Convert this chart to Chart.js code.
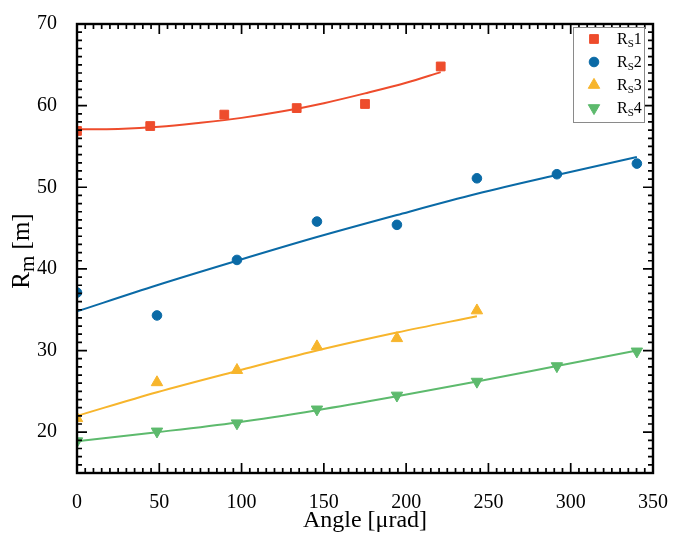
<!DOCTYPE html>
<html>
<head>
<meta charset="utf-8">
<script src="https://cdn.jsdelivr.net/npm/chart.js@4"></script>
<style>
  html, body { margin: 0; padding: 0; background: #fff; }
</style>
</head>
<body>
<canvas id="rm-chart" width="678" height="536"></canvas>
<script>
// measured points, angle in µrad, R_m in m
const angle1 = [0, 44.5, 89.5, 133.5, 175, 221];
const rs1 = [56.9, 57.5, 58.9, 59.7, 60.2, 64.8];
const angle2 = [0, 48.6, 97.2, 145.8, 194.4, 243, 291.6, 340.2];
const rs2 = [37.1, 34.3, 41.1, 45.8, 45.4, 51.1, 51.6, 52.9];
const angle3 = [0, 48.6, 97.2, 145.8, 194.4, 243];
const rs3 = [21.7, 26.1, 27.6, 30.5, 31.5, 34.9];
const angle4 = [0, 48.6, 97.2, 145.8, 194.4, 243, 291.6, 340.2];
const rs4 = [18.9, 20.1, 21.1, 22.8, 24.5, 26.2, 28.1, 29.9];

// fitted curves
const fitAngle1 = [0, 25, 50, 75, 100, 125, 150, 175, 200, 221];
const fit1 = [57.1, 57.15, 57.4, 57.9, 58.5, 59.3, 60.3, 61.5, 62.8, 64.1];
const fitAngle2 = [0, 48.6, 97.2, 145.8, 194.4, 243, 291.6, 340.2];
const fit2 = [34.8, 38.0, 41.0, 43.9, 46.6, 49.2, 51.5, 53.7];
const fitAngle3 = [0, 48.6, 97.2, 145.8, 194.4, 243];
const fit3 = [22.0, 24.9, 27.5, 30.0, 32.2, 34.2];
const fitAngle4 = [0, 48.6, 97.2, 145.8, 194.4, 243, 291.6, 340.2];
const fit4 = [18.9, 20.0, 21.2, 22.7, 24.4, 26.2, 28.1, 30.0];

const seriesLabels = ['1', '2', '3', '4'];
const xTicks = [0, 50, 100, 150, 200, 250, 300, 350];
const yTicks = [20, 30, 40, 50, 60, 70];

const colors = ['#ee4c2c', '#0a6aa6', '#f7b52c', '#5dba6d'];
const markers = [
    { pointStyle: 'rect', radius: 6.2, rotation: 0 },
    { pointStyle: 'circle', radius: 4.8, rotation: 0 },
    { pointStyle: 'triangle', radius: 6.6, rotation: 0 },
    { pointStyle: 'triangle', radius: 6.6, rotation: 180 },
];
const serif = '"Liberation Serif", "DejaVu Serif", serif';

function toXY(xs, ys) {
    return xs.map((x, i) => ({ x: x, y: ys[i] }));
}

const points = [toXY(angle1, rs1), toXY(angle2, rs2), toXY(angle3, rs3), toXY(angle4, rs4)];
const fits = [toXY(fitAngle1, fit1), toXY(fitAngle2, fit2), toXY(fitAngle3, fit3), toXY(fitAngle4, fit4)];

const datasets = [];
points.forEach((data, i) => {
    datasets.push({
        label: 'Rs' + seriesLabels[i],
        data: data,
        showLine: false,
        pointStyle: markers[i].pointStyle,
        pointRadius: markers[i].radius,
        pointRotation: markers[i].rotation,
        backgroundColor: colors[i],
        borderColor: colors[i],
        borderWidth: 1,
    });
});
fits.forEach((data, i) => {
    datasets.push({
        label: 'fit' + seriesLabels[i],
        data: data,
        showLine: true,
        pointRadius: 0,
        borderColor: colors[i],
        borderWidth: 2,
        cubicInterpolationMode: 'monotone',
    });
});

// box around the plot with inward ticks on all four sides
const frameTicks = {
    id: 'frameTicks',
    afterDatasetsDraw(chart) {
        const { ctx, chartArea: a, scales: { x, y } } = chart;
        ctx.save();
        ctx.strokeStyle = '#000';
        ctx.lineWidth = 1.7;
        ctx.beginPath();
        for (let v = 0; v <= 350; v += 5) {
            const px = x.getPixelForValue(v);
            const len = v % 50 === 0 ? 10 : 5;
            ctx.moveTo(px, a.bottom); ctx.lineTo(px, a.bottom - len);
            ctx.moveTo(px, a.top); ctx.lineTo(px, a.top + len);
        }
        for (let v = 15; v <= 70; v += 1) {
            const py = y.getPixelForValue(v);
            const len = v % 10 === 0 ? 10 : 5;
            ctx.moveTo(a.left, py); ctx.lineTo(a.left + len, py);
            ctx.moveTo(a.right, py); ctx.lineTo(a.right - len, py);
        }
        ctx.stroke();
        ctx.lineWidth = 2.4;
        ctx.strokeRect(a.left, a.top, a.right - a.left, a.bottom - a.top);
        ctx.restore();
    },
    afterDraw(chart) {
        const ctx = chart.ctx;
        // y title with subscript
        ctx.save();
        ctx.translate(29, 251);
        ctx.rotate(-Math.PI / 2);
        const big = '25px ' + serif, small = '21px ' + serif;
        ctx.font = big;
        const wR = ctx.measureText('R').width;
        const wRest = ctx.measureText(' [m]').width;
        ctx.font = small;
        const wm = ctx.measureText('m').width;
        let tx = -(wR + wm + wRest) / 2;
        ctx.fillStyle = '#000';
        ctx.textBaseline = 'alphabetic';
        ctx.font = big; ctx.fillText('R', tx, 0); tx += wR;
        ctx.font = small; ctx.fillText('m', tx, 5); tx += wm;
        ctx.font = big; ctx.fillText(' [m]', tx, 0);
        ctx.restore();

        // legend
        ctx.save();
        ctx.fillStyle = '#fff';
        ctx.fillRect(573, 27, 72, 95);
        ctx.strokeStyle = '#8a8a8a';
        ctx.lineWidth = 1;
        ctx.strokeRect(573.5, 27.5, 71, 95);
        seriesLabels.forEach((lab, i) => {
            const cy = 39 + i * 23;
            ctx.fillStyle = colors[i];
            ctx.strokeStyle = colors[i];
            Chart.helpers.drawPoint(ctx, {
                pointStyle: markers[i].pointStyle,
                radius: markers[i].radius,
                rotation: markers[i].rotation,
                borderWidth: 1,
            }, 594, cy);
            ctx.fillStyle = '#000';
            ctx.textBaseline = 'alphabetic';
            let lx = 617;
            ctx.font = '16px ' + serif;
            ctx.fillText('R', lx, cy + 5);
            lx += ctx.measureText('R').width;
            ctx.font = '11px ' + serif;
            ctx.fillText('S', lx, cy + 8);
            lx += ctx.measureText('S').width;
            ctx.font = '16px ' + serif;
            ctx.fillText(lab, lx, cy + 5);
        });
        ctx.restore();
    }
};

const ctx = document.getElementById('rm-chart').getContext('2d');
const rmChart = new Chart(ctx, {
    type: 'scatter',
    data: { datasets: datasets },
    options: {
        responsive: false,
        animation: false,
        layout: { padding: { top: 19, right: 16, left: 0, bottom: 0 } },
        plugins: {
            legend: { display: false },
            tooltip: { enabled: false },
        },
        scales: {
            x: {
                type: 'linear',
                min: 0,
                max: 350,
                afterBuildTicks: (s) => { s.ticks = xTicks.map(v => ({ value: v })); },
                afterFit: (s) => { s.height = 63; },
                grid: { display: false },
                border: { display: false },
                ticks: { color: '#000', font: { family: serif, size: 20 }, padding: 10, maxRotation: 0 },
                title: {
                    display: true,
                    text: 'Angle [μrad]',
                    color: '#000',
                    font: { family: serif, size: 24 },
                    padding: { top: 0, bottom: 1 },
                },
            },
            y: {
                type: 'linear',
                min: 15,
                max: 70,
                afterBuildTicks: (s) => { s.ticks = yTicks.map(v => ({ value: v })); },
                afterFit: (s) => { s.width = 77; },
                grid: { display: false },
                border: { display: false },
                ticks: { color: '#000', font: { family: serif, size: 20 }, padding: 12 },
            },
        },
    },
    plugins: [frameTicks],
});
</script>
</body>
</html>
